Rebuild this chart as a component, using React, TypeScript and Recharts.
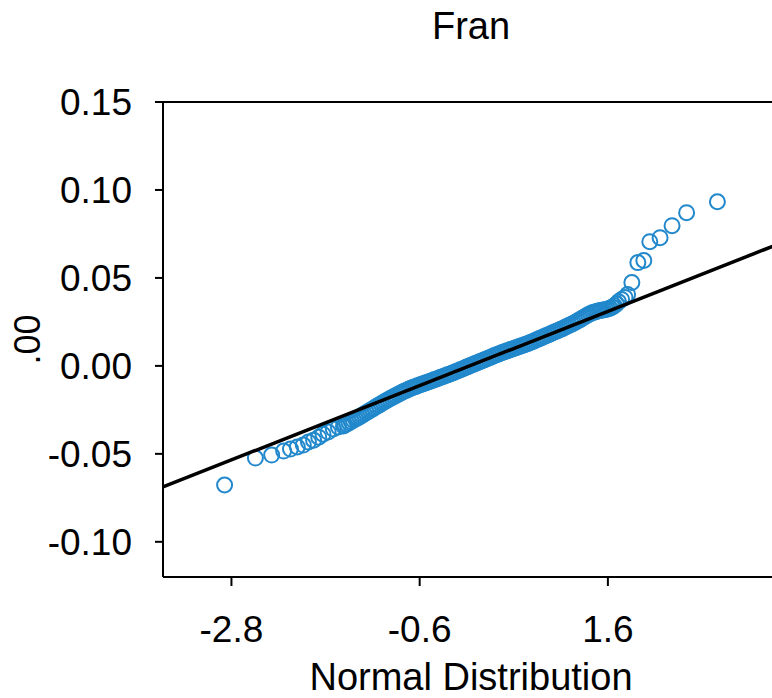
import { ScatterChart, Scatter, XAxis, YAxis, ReferenceLine } from 'recharts';

const title = 'Fran';
const xLabel = 'Normal Distribution';
const yLabel = '.00';

const xTicks = [-2.8, -0.6, 1.6];
const yTicks = [-0.1, -0.05, 0, 0.05, 0.1, 0.15];

// [normal quantile, sample value]
const lowerTail: [number, number][] = [
  [-2.88, -0.0677], [-2.52, -0.0524], [-2.33, -0.0507], [-2.19, -0.0484],
  [-2.11, -0.0473], [-2.03, -0.0461], [-1.96, -0.045], [-1.9, -0.0433],
  [-1.84, -0.0422], [-1.78, -0.0405], [-1.73, -0.0388], [-1.67, -0.0376],
  [-1.61, -0.0359], [-1.55, -0.0348], [-1.49, -0.0342],
];

const middle: [number, number][] = [
  [-1.475, -0.0336], [-1.45, -0.033], [-1.425, -0.0323], [-1.4, -0.0316],
  [-1.375, -0.0309], [-1.35, -0.0302], [-1.325, -0.0296], [-1.3, -0.0289],
  [-1.275, -0.0282], [-1.25, -0.0274], [-1.225, -0.0266], [-1.2, -0.0259],
  [-1.175, -0.0252], [-1.15, -0.0245], [-1.125, -0.0237], [-1.1, -0.023],
  [-1.075, -0.0223], [-1.05, -0.0215], [-1.025, -0.0208], [-1.0, -0.0201],
  [-0.975, -0.0194], [-0.95, -0.0187], [-0.925, -0.0181], [-0.9, -0.0174],
  [-0.875, -0.0168], [-0.85, -0.0161], [-0.825, -0.0155], [-0.8, -0.0149],
  [-0.775, -0.0143], [-0.75, -0.0138], [-0.725, -0.0132], [-0.7, -0.0127],
  [-0.675, -0.0122], [-0.65, -0.0118], [-0.625, -0.0113], [-0.6, -0.0109],
  [-0.575, -0.0105], [-0.55, -0.01], [-0.525, -0.0096], [-0.5, -0.0092],
  [-0.475, -0.0087], [-0.45, -0.0083], [-0.425, -0.0078], [-0.4, -0.0074],
  [-0.375, -0.0069], [-0.35, -0.0065], [-0.325, -0.006], [-0.3, -0.0056],
  [-0.275, -0.0051], [-0.25, -0.0047], [-0.225, -0.0042], [-0.2, -0.0037],
  [-0.175, -0.0032], [-0.15, -0.0027], [-0.125, -0.0022], [-0.1, -0.0017],
  [-0.075, -0.0012], [-0.05, -0.0007], [-0.025, -0.0002], [0.0, 0.0003],
  [0.025, 0.0008], [0.05, 0.0013], [0.075, 0.0018], [0.1, 0.0023],
  [0.125, 0.0028], [0.15, 0.0033], [0.175, 0.0038], [0.2, 0.0043],
  [0.225, 0.0048], [0.25, 0.0054], [0.275, 0.0059], [0.3, 0.0064],
  [0.325, 0.0068], [0.35, 0.0073], [0.375, 0.0078], [0.4, 0.0082],
  [0.425, 0.0086], [0.45, 0.0091], [0.475, 0.0095], [0.5, 0.0099],
  [0.525, 0.0103], [0.55, 0.0108], [0.575, 0.0112], [0.6, 0.0116],
  [0.625, 0.012], [0.65, 0.0125], [0.675, 0.0129], [0.7, 0.0134],
  [0.725, 0.0139], [0.75, 0.0144], [0.775, 0.015], [0.8, 0.0155],
  [0.825, 0.016], [0.85, 0.0165], [0.875, 0.0171], [0.9, 0.0176],
  [0.925, 0.0181], [0.95, 0.0187], [0.975, 0.0192], [1.0, 0.0197],
  [1.025, 0.0202], [1.05, 0.0208], [1.075, 0.0213], [1.1, 0.0219],
  [1.125, 0.0225], [1.15, 0.0231], [1.175, 0.0237], [1.2, 0.0243],
  [1.225, 0.025], [1.25, 0.0256], [1.275, 0.0263], [1.3, 0.0271],
  [1.325, 0.0278], [1.35, 0.0285], [1.375, 0.0292], [1.4, 0.0298],
  [1.425, 0.0303], [1.45, 0.0307], [1.475, 0.031], [1.5, 0.0313],
  [1.525, 0.0316], [1.55, 0.0318], [1.575, 0.032], [1.6, 0.0323],
  [1.625, 0.0328], [1.65, 0.0334], [1.675, 0.0342], [1.7, 0.0352],
  [1.725, 0.0364],
];

const upperTail: [number, number][] = [
  [1.76, 0.0378], [1.8, 0.0389], [1.83, 0.0406], [1.88, 0.0474],
  [1.95, 0.0587], [2.02, 0.0599], [2.09, 0.0706], [2.21, 0.0729],
  [2.35, 0.0797], [2.52, 0.0871], [2.88, 0.0933],
];

// reference (fit) line end points
const fitLine = [
  { x: -3.6, y: -0.0688 },
  { x: 3.6, y: 0.0694 },
];

const points = [...lowerTail, ...middle, ...upperTail].map(([x, y]) => ({ x, y }));

const font = '"Liberation Sans", Arial, sans-serif';

const Ring = (props: any) => (
  <circle cx={props.cx} cy={props.cy} r={7.5} fill="none" stroke="#2288cc" strokeWidth={2} />
);

const NoMark = () => <g />;

export default function App() {
  return (
    <div
      style={{
        position: 'absolute',
        left: 0,
        top: 0,
        width: 772,
        height: 698,
        overflow: 'hidden',
        background: '#fff',
      }}
    >
      <div
        style={{
          position: 'absolute',
          left: 163,
          width: 616,
          top: 2,
          textAlign: 'center',
          fontFamily: font,
          fontSize: 38,
          lineHeight: '48px',
          color: '#000',
        }}
      >
        {title}
      </div>
      <ScatterChart width={800} height={698} margin={{ top: 102, right: 21, bottom: 0, left: 0 }}>
        <XAxis
          type="number"
          dataKey="x"
          domain={[-3.6, 3.6]}
          ticks={xTicks}
          allowDataOverflow
          height={121}
          stroke="#000"
          strokeWidth={2}
          tickSize={9}
          tickMargin={30}
          tick={{ fill: '#000', fontSize: 37, fontFamily: font }}
          tickFormatter={(v: number) => v.toFixed(1)}
          label={{
            value: xLabel,
            position: 'insideBottom',
            offset: 8,
            fill: '#000',
            fontSize: 38,
            fontFamily: font,
          }}
        />
        <YAxis
          type="number"
          dataKey="y"
          domain={[-0.12, 0.15]}
          ticks={yTicks}
          allowDataOverflow
          width={163}
          stroke="#000"
          strokeWidth={2}
          tickSize={8}
          tickMargin={23}
          tick={{ fill: '#000', fontSize: 37, fontFamily: font }}
          tickFormatter={(v: number) => v.toFixed(2)}
          label={{
            value: yLabel,
            angle: -90,
            position: 'insideLeft',
            offset: 27,
            textAnchor: 'middle',
            fill: '#000',
            fontSize: 36,
            fontFamily: font,
          }}
        />
        <ReferenceLine y={0.15} stroke="#000" strokeWidth={2} />
        <Scatter data={points} shape={Ring} isAnimationActive={false} />
        <Scatter
          data={fitLine}
          shape={NoMark}
          line={{ stroke: '#000', strokeWidth: 3.5 }}
          isAnimationActive={false}
        />
      </ScatterChart>
    </div>
  );
}
